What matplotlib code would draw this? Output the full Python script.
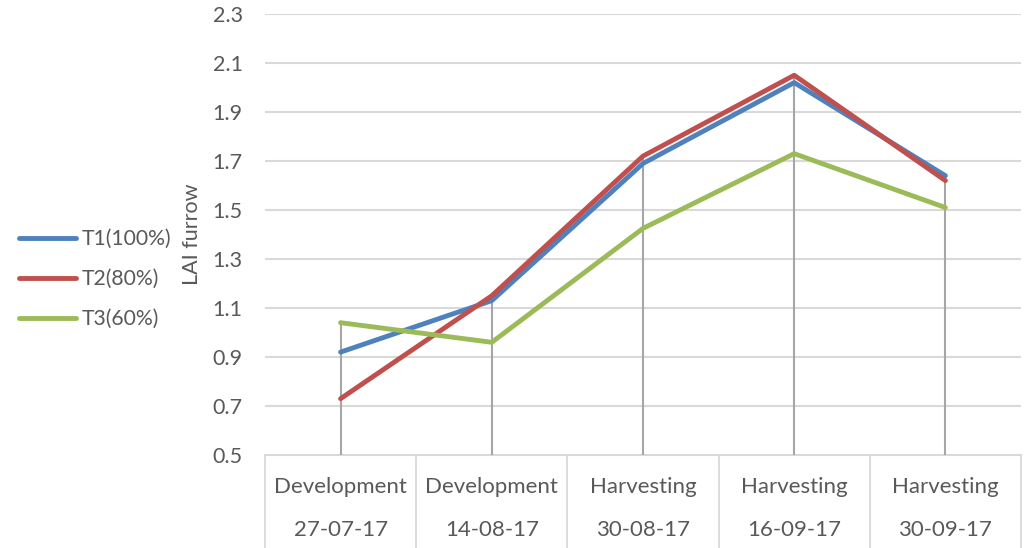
import matplotlib
matplotlib.use("Agg")
import matplotlib.pyplot as plt
from matplotlib.transforms import blended_transform_factory

plt.rcParams['font.family'] = ['Lato', 'DejaVu Sans']

stages = ["Development", "Development", "Harvesting", "Harvesting", "Harvesting"]
dates = ["27-07-17", "14-08-17", "30-08-17", "16-09-17", "30-09-17"]
t1 = [0.92, 1.13, 1.69, 2.02, 1.64]
t2 = [0.73, 1.15, 1.72, 2.05, 1.62]
t3 = [1.04, 0.96, 1.425, 1.73, 1.51]
series_names = ["T1(100%)", "T2(80%)", "T3(60%)"]
colors = ["#4F81BD", "#C0504D", "#9BBB59"]
yticks = [0.5, 0.7, 0.9, 1.1, 1.3, 1.5, 1.7, 1.9, 2.1, 2.3]

W, H = 1025, 548
fig = plt.figure(figsize=(W / 100, H / 100), dpi=100)
left, right, top, bottom = 265, 1021, 14, 455
ax = fig.add_axes([left / W, (H - bottom) / H, (right - left) / W, (bottom - top) / H])

text_color = "#595959"
grid_color = "#d9d9d9"
fs = 15.5

x = list(range(1, len(dates) + 1))
ax.set_xlim(0.5, len(dates) + 0.5)
ax.set_ylim(yticks[0], yticks[-1])

# horizontal gridlines
for yv in yticks[1:]:
    ax.axhline(yv, color=grid_color, lw=1.5, zorder=0)

# drop lines from the highest series down to the axis
all_series = [t1, t2, t3]
for i, xv in enumerate(x):
    top_val = max(s[i] for s in all_series)
    ax.plot([xv, xv], [yticks[0], top_val], color="#a6a6a6", lw=1.5, zorder=1)

lines = []
for vals, name, c in zip(all_series, series_names, colors):
    ln, = ax.plot(x, vals, color=c, lw=3.5, solid_capstyle="round", solid_joinstyle="round", label=name, zorder=3)
    lines.append(ln)

for s in ax.spines.values():
    s.set_visible(False)
ax.set_xticks([])
ax.set_yticks(yticks)
ax.set_yticklabels([f"{v:.1f}" for v in yticks], fontsize=fs, color=text_color)
ax.tick_params(axis="y", length=0, pad=16)
ax.set_ylabel("LAI furrow", fontsize=fs, color=text_color, labelpad=8)

# bottom axis line and category table
ax.axhline(yticks[0], color=grid_color, lw=1.5, zorder=0, clip_on=False)
tr = blended_transform_factory(ax.transData, fig.transFigure)
for b in [i + 0.5 for i in range(len(dates) + 1)]:
    ax.plot([b, b], [(H - bottom) / H, 0], color=grid_color, lw=1.3, transform=tr, clip_on=False)
for xv, st, d in zip(x, stages, dates):
    ax.text(xv, (H - 487) / H, st, transform=tr, ha="center", va="center", fontsize=fs + 0.5, color=text_color)
    ax.text(xv, (H - 530) / H, d, transform=tr, ha="center", va="center", fontsize=fs + 0.5, color=text_color)

leg = fig.legend(handles=lines, loc="upper left", bbox_to_anchor=(0.0, (H - 210) / H),
                 frameon=False, fontsize=15.2, labelcolor=text_color, handlelength=2.7,
                 handletextpad=0.25, labelspacing=0.95)

fig.savefig("out.png", dpi=100)
